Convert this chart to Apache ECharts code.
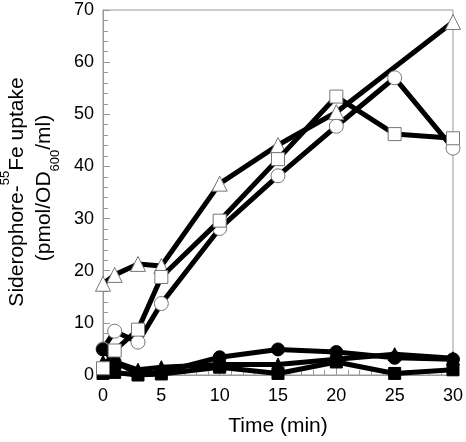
<!DOCTYPE html>
<html><head><meta charset="utf-8">
<script src="https://cdn.jsdelivr.net/npm/echarts@6/dist/echarts.min.js"></script>
<style>html,body{margin:0;padding:0;background:#fff}#c{width:466px;height:442px}</style>
</head><body><div id="c"></div>
<script>
const times = [0, 1, 3, 5, 10, 15, 20, 25, 30];
const openTriangle = [17.5, 19.2, 21.3, 20.9, 36.7, 44.1, 50.4, null, 67.7];
const openSquare = [1.3, 4.7, 8.7, 18.8, 29.6, 41.4, 53.4, 46.2, 45.4];
const openCircle = [5.0, 8.4, 6.3, 13.7, 28.1, 38.2, 47.7, 57.0, 43.5];
const filledCircle = [4.9, 2.5, 0.3, 0.5, 3.4, 4.9, 4.4, 3.3, 3.0];
const filledTriangle = [2.5, 2.5, 1.0, 1.5, 2.0, 2.0, 3.0, 4.0, 3.2];
const filledSquare = [0.3, 0.5, 0.0, 0.2, 1.5, 0.3, 2.5, 0.3, 1.0];
const xTicks = [0, 5, 10, 15, 20, 25, 30];
const yTicks = [0, 10, 20, 30, 40, 50, 60, 70];
const yTitle1 = 'Siderophore-{sup|55}Fe uptake';
const yTitle2 = '(pmol/OD{sub|600}/ml)';
const xTitle = 'Time (min)';

function pts(arr) {
  const out = [];
  arr.forEach((v, i) => { if (v !== null) out.push([times[i], v]); });
  return out;
}
function ser(arr, symbol, open, size, z) {
  return {
    type: 'line', data: pts(arr), symbol: symbol, symbolSize: size,
    showAllSymbol: true,
    lineStyle: { color: '#000', width: 5 },
    itemStyle: open ? { color: '#fff', borderColor: '#777', borderWidth: 1 }
                    : { color: '#000', borderColor: '#000', borderWidth: 1 },
    z: z, animation: false
  };
}
const F = 'Liberation Sans';
const tri = 'path://M0,-10 L10,8 L-10,8 Z';
const chart = echarts.init(document.getElementById('c'));
chart.setOption({
  backgroundColor: '#fff',
  animation: false,
  grid: { left: 103, right: 10, top: 10, bottom: 64, show: true, borderColor: '#999', borderWidth: 1, backgroundColor: 'transparent' },
  xAxis: {
    type: 'value', min: xTicks[0], max: xTicks[xTicks.length - 1], interval: 5,
    name: xTitle, nameLocation: 'middle', nameGap: 41,
    nameTextStyle: { fontFamily: F, fontSize: 21, color: '#000' },
    axisLine: { lineStyle: { color: '#999', width: 1 } },
    axisTick: { inside: true, length: 7, lineStyle: { color: '#999' } },
    minorTick: { show: true, splitNumber: 5, length: 5, lineStyle: { color: '#999' } },
    splitLine: { show: false },
    axisLabel: { fontFamily: F, fontSize: 18, color: '#000', margin: 12 }
  },
  yAxis: {
    type: 'value', min: yTicks[0], max: yTicks[yTicks.length - 1], interval: 10,
    axisLine: { show: true, lineStyle: { color: '#999', width: 1 } },
    axisTick: { inside: true, length: 7, lineStyle: { color: '#999' } },
    minorTick: { show: true, splitNumber: 5, length: 5, lineStyle: { color: '#999' } },
    splitLine: { show: false },
    axisLabel: { fontFamily: F, fontSize: 18, color: '#000', margin: 9 }
  },
  graphic: [{
    type: 'text', x: 17, y: 192, rotation: Math.PI / 2,
    style: {
      text: yTitle1, fontFamily: F, fontSize: 21, fill: '#000',
      align: 'center', verticalAlign: 'middle', lineHeight: 36,
      rich: { sup: { fontSize: 13, fontFamily: F, fill: '#000', verticalAlign: 'top', lineHeight: 13 } }
    }
  }, {
    type: 'text', x: 44, y: 188, rotation: Math.PI / 2,
    style: {
      text: yTitle2, fontFamily: F, fontSize: 21, fill: '#000',
      align: 'center', verticalAlign: 'middle', lineHeight: 36,
      rich: { sub: { fontSize: 13, fontFamily: F, fill: '#000', verticalAlign: 'bottom', lineHeight: 13 } }
    }
  }],
  series: [
    ser(openTriangle, tri, true, 15, 2),
    ser(openCircle, 'circle', true, 14, 2),
    ser(filledTriangle, tri, false, 13, 3),
    ser(filledSquare, 'rect', false, 12, 3),
    ser(filledCircle, 'circle', false, 13, 3),
    ser(openSquare, 'rect', true, 13, 4)
  ]
});
</script></body></html>
